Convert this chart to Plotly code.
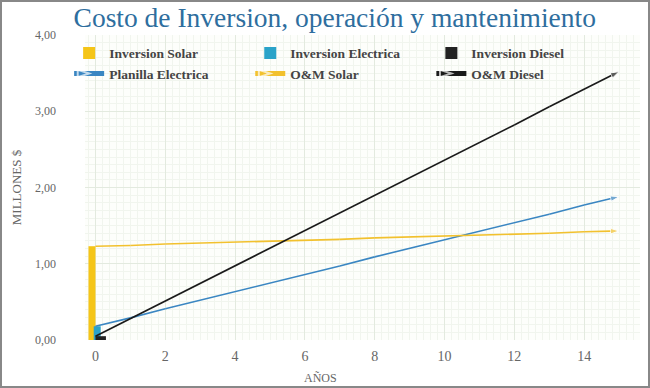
import plotly.graph_objects as go

years = list(range(16))
planilla_electrica = [0.18, 0.29, 0.41, 0.52, 0.63, 0.75, 0.86, 0.97, 1.09, 1.20, 1.31, 1.43, 1.54, 1.65, 1.77, 1.88]
om_solar = [1.23, 1.24, 1.26, 1.27, 1.28, 1.30, 1.31, 1.32, 1.34, 1.35, 1.36, 1.38, 1.39, 1.40, 1.42, 1.43]
om_diesel = [0.05, 0.28, 0.51, 0.74, 0.97, 1.21, 1.44, 1.67, 1.90, 2.13, 2.36, 2.59, 2.82, 3.06, 3.29, 3.52]

inv_year = [0]
inversion_solar = [1.23]
inversion_electrica = [0.18]
inversion_diesel = [0.05]

FONT = "Liberation Serif"
fig = go.Figure()

fig.add_trace(go.Bar(x=inv_year, y=inversion_solar, name="<b>Inversion Solar</b>",
                     marker=dict(color="#F5C518", line=dict(width=0)), width=0.2, offset=-0.2))
fig.add_trace(go.Bar(x=inv_year, y=inversion_electrica, name="<b>Inversion Electrica</b>",
                     marker=dict(color="#2AA3C9", line=dict(width=0)), width=0.2, offset=-0.05))
fig.add_trace(go.Bar(x=inv_year, y=inversion_diesel, name="<b>Inversion Diesel</b>",
                     marker=dict(color="#222222", line=dict(width=0)), width=0.3, offset=0.0))

def sizes(n):
    return [0] * (n - 1) + [9]

for name, vals, col in [("Planilla Electrica", planilla_electrica, "#3A86C2"),
                        ("O&M Solar", om_solar, "#F2C12E"),
                        ("O&M Diesel", om_diesel, "#1A1A1A")]:
    fig.add_trace(go.Scatter(x=years, y=vals, name="<b>" + name + "</b>", mode="lines+markers",
                             line=dict(color=col, width=1.6),
                             marker=dict(symbol="arrow", angleref="previous",
                                         size=sizes(len(vals)), color=col)))

grid_major = "#E3EADF"
grid_minor = "#F1F5EE"
L, R, T, B = 85, 10, 35, 48
PW, PH = 650 - L - R, 388 - T - B
fig.update_layout(
    width=650, height=388,
    barmode="overlay",
    paper_bgcolor="white",
    plot_bgcolor="#FDFEFB",
    margin=dict(l=L, r=R, t=T, b=B),
    title=dict(text="Costo de Inversion, operación y mantenimiento",
               font=dict(family=FONT, size=27.5, color="#2E6E9E"),
               x=0.515, xanchor="center", yref="container", y=0.98, yanchor="top"),
    font=dict(family=FONT, size=12, color="#555555"),
    separators=",.",
    legend=dict(orientation="h", x=-0.034, y=1.001, xanchor="left", yanchor="top",
                entrywidth=0.283, entrywidthmode="fraction",
                bgcolor="rgba(0,0,0,0)", borderwidth=3, bordercolor="rgba(0,0,0,0)",
                font=dict(family=FONT, size=13.5, color="#444444"),
                itemsizing="constant", tracegroupgap=0),
    showlegend=True,
)
fig.update_xaxes(range=[-0.3, 15.6], tickvals=[0, 2, 4, 6, 8, 10, 12, 14],
                 showgrid=True, gridcolor=grid_major, zeroline=False,
                 minor=dict(dtick=0.2, showgrid=True, gridcolor=grid_minor),
                 tickfont=dict(family=FONT, size=14, color="#666666"),
                 ticklabelstandoff=6,
                 showline=False, ticks="")
fig.update_yaxes(range=[0, 4], dtick=1, tickformat=".2f",
                 showgrid=True, gridcolor=grid_major, zeroline=False,
                 minor=dict(dtick=0.1, showgrid=True, gridcolor=grid_minor),
                 tickfont=dict(family=FONT, size=12, color="#666666"),
                 ticklabelstandoff=28,
                 title=dict(text="MILLONES $", font=dict(family=FONT, size=13, color="#666666"), standoff=10),
                 showline=False, ticks="")

fig.add_annotation(text="AÑOS", xref="paper", yref="paper", x=(320 - L) / PW, y=-(378 - 340) / PH,
                   xanchor="center", yanchor="middle", showarrow=False,
                   font=dict(family=FONT, size=12, color="#666666"))

fig.add_shape(type="rect", xref="paper", yref="paper",
              x0=(-L + 1) / PW, y0=(-B + 1) / PH, x1=1 + (R - 1) / PW, y1=1 + (T - 1) / PH,
              line=dict(color="#888888", width=2), fillcolor="rgba(0,0,0,0)")

fig.write_html("out.html", config={"displayModeBar": False},
               post_script="document.body.style.margin='0px';")
